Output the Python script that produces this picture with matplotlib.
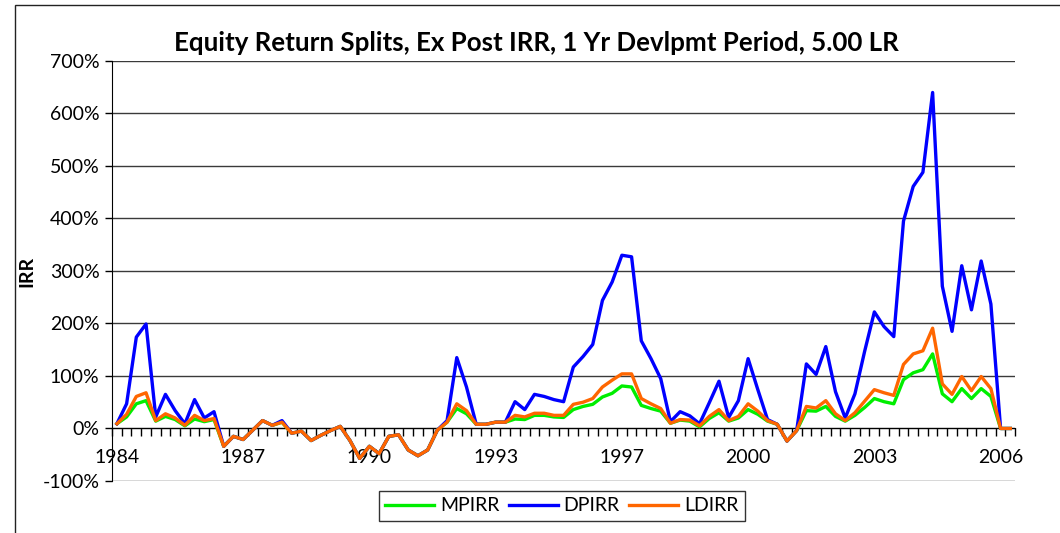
import matplotlib
matplotlib.use('Agg')
import matplotlib.pyplot as plt
from matplotlib.patches import Rectangle
from matplotlib.ticker import FixedLocator, FuncFormatter

# quarterly points, 1984 Q1 .. 2007 Q1 (values in %)
mpirr = [9, 22, 47, 53, 14, 23, 17, 5, 18, 13, 17, -34, -15, -21, -3, 15,
         6, 12, -9, -5, -23, -13, -4, 4, -23, -57, -34, -48, -15, -12, -41, -52,
         -41, -3, 12, 38, 28, 8, 8, 12, 12, 18, 17, 25, 25, 22, 21, 36,
         42, 46, 60, 67, 81, 79, 44, 38, 33, 10, 16, 14, 3, 19, 30, 14,
         20, 36, 27, 14, 8, -24, -4, 34, 33, 42, 23, 14, 25, 40, 57, 51,
         47, 93, 106, 112, 142, 66, 51, 76, 57, 76, 61, 0, 0]
dpirr = [9, 47, 174, 199, 22, 65, 34, 9, 55, 20, 32, -34, -15, -21, -3, 15,
         6, 15, -9, -5, -23, -13, -4, 4, -23, -57, -34, -48, -15, -12, -41, -52,
         -41, -3, 15, 135, 79, 8, 8, 12, 12, 51, 36, 65, 61, 55, 51, 117,
         137, 160, 244, 279, 330, 327, 167, 133, 95, 13, 32, 24, 9, 49, 90, 21,
         53, 133, 74, 17, 8, -24, -4, 123, 103, 156, 70, 20, 66, 147, 222, 194,
         175, 395, 461, 488, 640, 271, 185, 310, 226, 319, 237, 0, 0]
ldirr = [9, 27, 61, 68, 15, 28, 20, 6, 25, 15, 19, -34, -15, -21, -3, 15,
         6, 12, -9, -5, -23, -13, -4, 4, -23, -57, -34, -48, -15, -12, -41, -52,
         -41, -3, 12, 47, 34, 8, 8, 12, 12, 25, 22, 29, 29, 25, 25, 46,
         50, 57, 79, 92, 104, 104, 57, 47, 38, 10, 17, 16, 5, 23, 36, 15,
         23, 47, 33, 15, 8, -24, -4, 42, 39, 53, 28, 15, 30, 52, 74, 68,
         63, 122, 142, 148, 191, 85, 65, 99, 72, 99, 76, 0, 0]

year_labels = ['1984', '1987', '1990', '1993', '1997', '2000', '2003', '2006']
label_step = 13

plt.rcParams['font.family'] = ['Lato', 'DejaVu Sans']

fig = plt.figure(figsize=(10.6, 5.33), dpi=100)
ax = fig.add_axes([0.1057, 0.0976, 0.852, 0.788])

x = list(range(len(dpirr)))
ax.plot(x, mpirr, color='#00ee00', lw=2.4, label='MPIRR', zorder=3)
ax.plot(x, dpirr, color='#0000ff', lw=2.4, label='DPIRR', zorder=4)
ax.plot(x, ldirr, color='#ff6600', lw=2.4, label='LDIRR', zorder=5)

ax.set_xlim(-0.5, len(x) - 0.5)
ax.set_ylim(-100, 700)

# y axis
ax.set_yticks(range(-100, 701, 100))
ax.yaxis.set_major_formatter(FuncFormatter(lambda v, p: '{:.0f}%'.format(v)))
ax.tick_params(axis='y', direction='out', length=5, width=1, labelsize=14, pad=4)
ax.grid(axis='y', color='#3a3a3a', lw=1.0)
ax.set_axisbelow(True)
ax.set_ylabel('IRR', fontsize=14, fontweight='bold', labelpad=5)

# x axis crossing at 0
ax.spines['bottom'].set_position(('data', 0))
ax.spines['top'].set_visible(False)
ax.spines['right'].set_visible(False)
ax.xaxis.set_major_locator(FixedLocator([i * label_step for i in range(len(year_labels))]))
ax.xaxis.set_major_formatter(FuncFormatter(lambda v, p: year_labels[int(round(v / label_step))]))
ax.xaxis.set_minor_locator(FixedLocator([i - 0.5 for i in range(len(x) + 1)]))
ax.tick_params(axis='x', which='major', length=0, labelsize=14, pad=15)
ax.tick_params(axis='x', which='minor', direction='out', length=6, width=1)

ax.set_title('Equity Return Splits, Ex Post IRR, 1 Yr Devlpmt Period, 5.00 LR',
             fontsize=18.6, fontweight='bold', pad=7, x=0.4695)

leg = fig.legend(loc='center', bbox_to_anchor=(0.530, 0.0507), ncol=3,
                 fontsize=14, frameon=True, fancybox=False, edgecolor='black',
                 handlelength=2.5, columnspacing=0.5, handletextpad=0.3,
                 borderpad=0.35, borderaxespad=0)
leg.get_frame().set_linewidth(1.0)

fig.add_artist(Rectangle((15 / 1060, -0.1), 1.2, 1.1 - 5 / 533,
                         transform=fig.transFigure, fill=False,
                         edgecolor='#222222', lw=1.0))

fig.savefig('out.png', dpi=100)
